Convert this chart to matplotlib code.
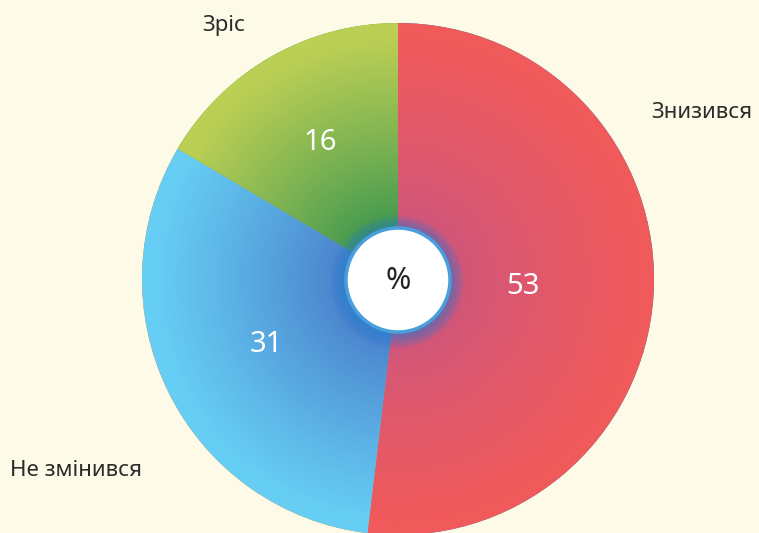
import numpy as np
import matplotlib.pyplot as plt
from matplotlib.patches import Circle
from matplotlib.colors import to_rgb

# Data: shares, printed labels as shown
categories = ["Знизився", "Не змінився", "Зріс"]
shares = [51.9, 31.6, 16.5]
pct_labels = ["53", "31", "16"]

# inner / outer gradient colours of each slice
inner_colors = ["#cc5680", "#4676c6", "#32924f"]
outer_colors = ["#f05a5a", "#66cef4", "#bccf55"]

W, H = 759, 533
bg = "#fdfae8"

plt.rcParams['font.family'] = ['Noto Sans', 'DejaVu Sans']

fig = plt.figure(figsize=(W / 100, H / 100), dpi=100, facecolor=bg)
ax = fig.add_axes([0, 0, 1, 1])
ax.set_facecolor(bg)

cx, cy = 398, H - 279
R = 256

wedges, _ = ax.pie(shares, center=(cx, cy), radius=R, startangle=90,
                   counterclock=False, wedgeprops=dict(linewidth=0))

# radial gradient clipped to every wedge
n = 400
gx, gy = np.meshgrid(np.linspace(-1, 1, n), np.linspace(-1, 1, n))
t = np.clip(np.sqrt(gx**2 + gy**2), 0, 1)
m = np.clip((t - 0.15) / 0.8, 0, 1) ** 0.85
for w, ci, co in zip(wedges, inner_colors, outer_colors):
    ci, co = np.array(to_rgb(ci)), np.array(to_rgb(co))
    img = ci[None, None, :] * (1 - m[..., None]) + co[None, None, :] * m[..., None]
    im = ax.imshow(img, extent=(cx - R, cx + R, cy - R, cy + R), origin='lower',
                   interpolation='bilinear', zorder=2)
    im.set_clip_path(w)

# percentage labels inside slices
dists = [0.49, 0.575, 0.615]
start = 90
for share, lab, d in zip(shares, pct_labels, dists):
    mid = np.deg2rad(start - share * 3.6 / 2)
    start -= share * 3.6
    ax.text(cx + d * R * np.cos(mid), cy + d * R * np.sin(mid), lab,
            color='white', fontsize=21, ha='center', va='center', zorder=5,
            fontweight='light')

# category labels outside
ax.text(651, H - 113, categories[0], fontsize=16, color='#2b2b2b',
        ha='left', va='center', zorder=5)
ax.text(10, H - 471, categories[1], fontsize=16, color='#2b2b2b',
        ha='left', va='center', zorder=5)
ax.text(224, H - 25, categories[2], fontsize=16, color='#2b2b2b',
        ha='center', va='center', zorder=5)

# centre disc with blue glow
for k in range(16, 0, -1):
    ax.add_patch(Circle((cx - 1, cy - 3), 51 + k, fc='#2a7fd8', ec='none',
                        alpha=0.05, zorder=3))
ax.add_patch(Circle((cx, H - 280), 52, fc='white', ec='#4a9fdc', lw=2.5, zorder=4))
ax.text(cx, H - 281, "%", fontsize=22, color='#222222', ha='center', va='center',
        zorder=5)

ax.set_xlim(0, W)
ax.set_ylim(0, H)
ax.set_aspect('equal')
ax.axis('off')

fig.savefig("out.png", dpi=100, facecolor=bg)
